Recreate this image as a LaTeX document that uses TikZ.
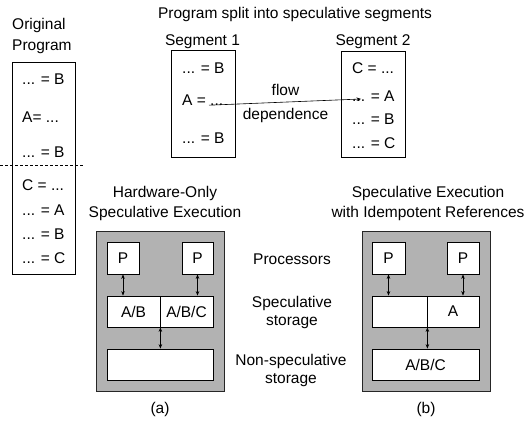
\documentclass[tikz,border=0pt]{standalone}
\usepackage{fontspec}
\setmainfont{Liberation Sans}
\usetikzlibrary{arrows.meta}
\definecolor{grayfill}{RGB}{178,178,178}
\begin{document}
\begin{tikzpicture}[x=1pt,y=-1pt,
  txt/.style={font=\fontsize{15.5}{20}\selectfont, inner sep=0pt},
  lbl/.style={txt, align=center},
  box/.style={draw=black, line width=0.8pt, fill=white, inner sep=0pt, font=\fontsize{15.5}{20}\selectfont},
  graybox/.style={draw=black!85, line width=0.8pt, fill=grayfill, inner sep=0pt},
  dar/.style={{Stealth[length=4.5pt,width=3.5pt]}-{Stealth[length=4.5pt,width=3.5pt]}, line width=0.6pt},
  far/.style={-{Stealth[length=4.5pt,width=3.5pt]}, line width=0.6pt}
]
\useasboundingbox (0,0) rectangle (529,422);

% ---- Original program ----
\node[lbl, align=left, anchor=west, font=\fontsize{15.5}{21}\selectfont] (origlbl) at (12,36) {Original\\Program};
\node[box, minimum width=63pt, minimum height=212pt] (orig) at (43.5,168) {};
\node[txt, anchor=base west] (o1) at (22,84.5) {... = B};
\node[txt, anchor=base west] (o2) at (22,122.5) {A= ...};
\node[txt, anchor=base west] (o3) at (22,157.5) {... = B};
\node[txt, anchor=base west] (o4) at (22,190.5) {C = ...};
\node[txt, anchor=base west] (o5) at (22,215.5) {... = A};
\node[txt, anchor=base west] (o6) at (22,239.5) {... = B};
\node[txt, anchor=base west] (o7) at (22,263.5) {... = C};
\coordinate (dl1) at (0,165);
\coordinate (dl2) at (83,165);
\draw[line width=0.6pt, dash pattern=on 3pt off 2pt] (dl1) -- (dl2);

% ---- Title and segments ----
\node[txt, anchor=base] (title) at (295,18.5) {Program split into speculative segments};
\node[txt, anchor=base] (s1lbl) at (202.5,45.5) {Segment 1};
\node[txt, anchor=base] (s2lbl) at (373,45.5) {Segment 2};
\node[box, minimum width=64pt, minimum height=107pt] (seg1) at (203,103.5) {};
\node[box, minimum width=64pt, minimum height=106pt] (seg2) at (373,104) {};
\node[txt, anchor=base west] (a1) at (182,73.5) {... = B};
\node[txt, anchor=base west] (a2) at (182,105.5) {A = ...};
\node[txt, anchor=base west] (a3) at (182,143.5) {... = B};
\node[txt, anchor=base west] (b1) at (352,73.5) {C = ...};
\node[txt, anchor=base west] (b2) at (352,101.5) {... = A};
\node[txt, anchor=base west] (b3) at (352,124.5) {... = B};
\node[txt, anchor=base west] (b4) at (352,148.5) {... = C};
\node[lbl, font=\fontsize{15.5}{24}\selectfont] (flow) at (285.5,103.5) {flow\\dependence};
\coordinate (fs) at (209,105.2);
\coordinate (fe) at (361,99);
\draw[far] (fs) -- (fe);

% ---- Headings of the two organisations ----
\node[lbl] (hA) at (165,203.5) {Hardware-Only\\Speculative Execution};
\node[lbl] (hB) at (428,203.5) {Speculative Execution\\with Idempotent References};

% ---- (a) ----
\node[graybox, minimum width=128pt, minimum height=160pt] (ga) at (160,311) {};
\node[box, minimum width=32pt, minimum height=32pt] (pa1) at (123,258) {P};
\node[box, minimum width=31pt, minimum height=32pt] (pa2) at (197.5,258) {P};
\node[box, minimum width=53pt, minimum height=31pt] (sa1) at (133.5,311.5) {A/B};
\node[box, minimum width=53pt, minimum height=31pt] (sa2) at (186.5,311.5) {A/B/C};
\node[box, minimum width=106pt, minimum height=31pt] (na) at (160,364.5) {};
\draw[dar] (pa1.south) -- (pa1.south |- sa1.north);
\draw[dar] (pa2.south) -- (pa2.south |- sa2.north);
\draw[dar] (sa1.south east) -- (sa1.south east |- na.north);
\node[txt, anchor=base] (capa) at (160,413) {(a)};

% ---- (b) ----
\node[graybox, minimum width=128pt, minimum height=160pt] (gb) at (426,311) {};
\node[box, minimum width=33pt, minimum height=32pt] (pb1) at (388.5,258) {P};
\node[box, minimum width=32pt, minimum height=32pt] (pb2) at (463,258) {P};
\node[box, minimum width=55pt, minimum height=31pt] (sb1) at (399.5,311.5) {};
\node[box, minimum width=52pt, minimum height=31pt] (sb2) at (453,311.5) {A};
\node[box, minimum width=107pt, minimum height=31pt] (nb) at (425.5,364.5) {A/B/C};
\draw[dar] (pb1.south) -- (pb1.south |- sb1.north);
\draw[dar] (pb2.south) -- (pb2.south |- sb2.north);
\draw[dar] (sb1.south east) -- (sb1.south east |- nb.north);
\node[txt, anchor=base] (capb) at (426,413) {(b)};

% ---- middle labels ----
\node[txt] (proc) at (292,259) {Processors};
\node[lbl, font=\fontsize{15.5}{18}\selectfont] (spst) at (292,312.5) {Speculative\\storage};
\node[lbl, font=\fontsize{15.5}{18}\selectfont] (nsst) at (291,370.5) {Non-speculative\\storage};
\end{tikzpicture}
\end{document}
